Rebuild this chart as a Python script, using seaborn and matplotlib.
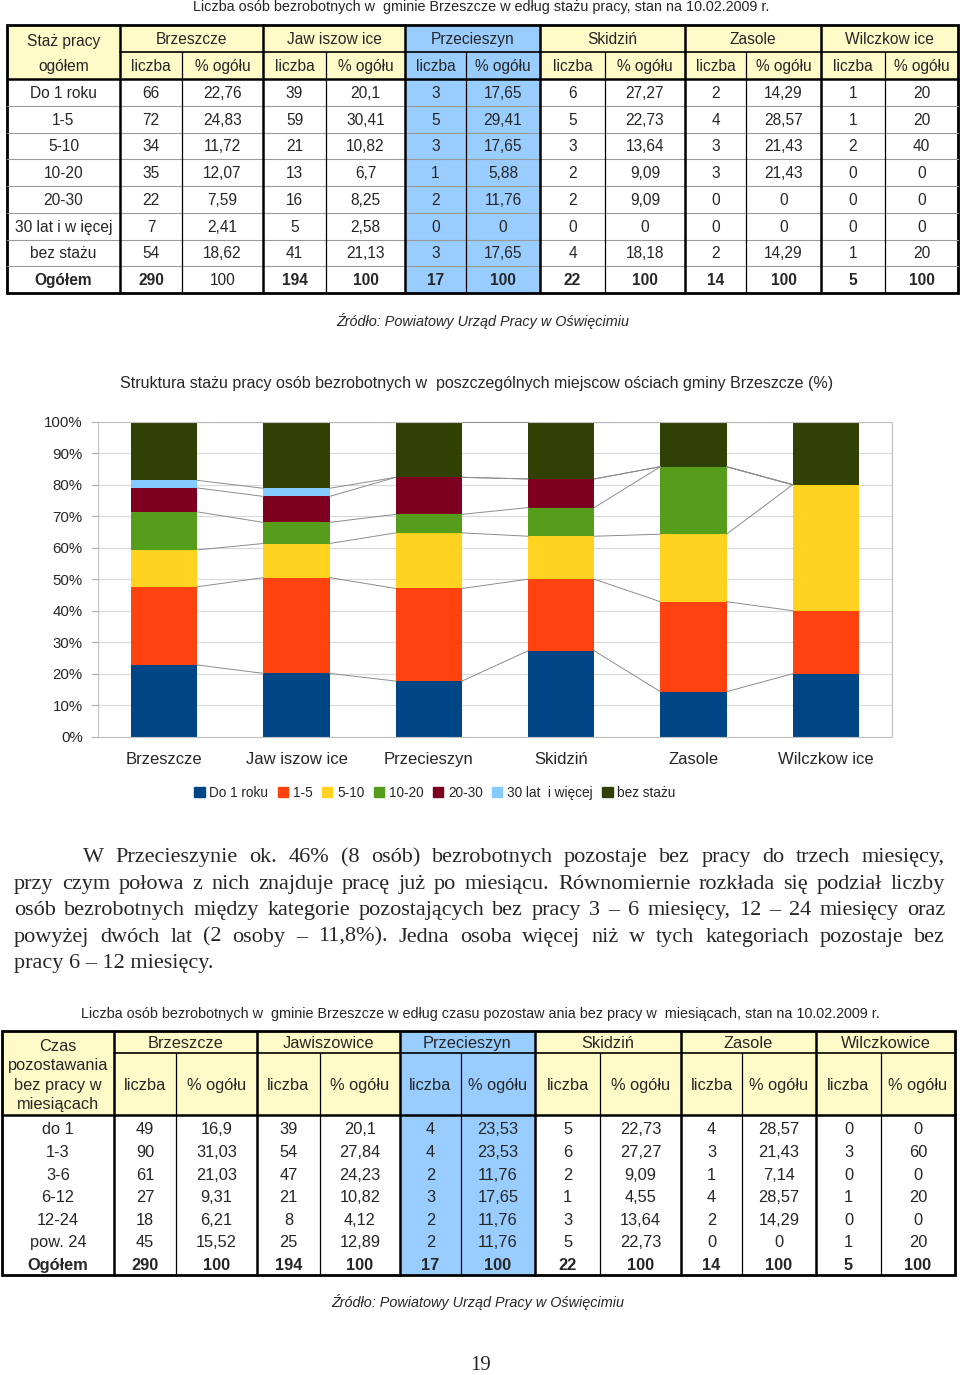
import numpy as np
import pandas as pd
import matplotlib
matplotlib.use("Agg")
import matplotlib.pyplot as plt
import seaborn as sns
from matplotlib.patches import Rectangle, Patch

sns.set_style("white")
NARROW = ['Liberation Sans Narrow', 'Liberation Sans', 'DejaVu Sans']
SANS = ['Liberation Sans', 'DejaVu Sans']
SERIF = ['Liberation Serif', 'DejaVu Serif']
plt.rcParams['font.family'] = SANS

# ---- data: table 1 (staz pracy) ----
towns = ["Brzeszcze", "Jaw iszow ice", "Przecieszyn", "Skidziń", "Zasole", "Wilczkow ice"]
staz_labels = ["Do 1 roku", "1-5", "5-10", "10-20", "20-30", "30 lat i w ięcej", "bez stażu", "Ogółem"]
legend_labels = ["Do 1 roku", "1-5", "5-10", "10-20", "20-30", "30 lat  i więcej", "bez stażu"]

brzeszcze_n = [66, 72, 34, 35, 22, 7, 54, 290]
brzeszcze_pct = [22.76, 24.83, 11.72, 12.07, 7.59, 2.41, 18.62, 100]
jawiszowice_n = [39, 59, 21, 13, 16, 5, 41, 194]
jawiszowice_pct = [20.1, 30.41, 10.82, 6.7, 8.25, 2.58, 21.13, 100]
przecieszyn_n = [3, 5, 3, 1, 2, 0, 3, 17]
przecieszyn_pct = [17.65, 29.41, 17.65, 5.88, 11.76, 0, 17.65, 100]
skidzin_n = [6, 5, 3, 2, 2, 0, 4, 22]
skidzin_pct = [27.27, 22.73, 13.64, 9.09, 9.09, 0, 18.18, 100]
zasole_n = [2, 4, 3, 3, 0, 0, 2, 14]
zasole_pct = [14.29, 28.57, 21.43, 21.43, 0, 0, 14.29, 100]
wilczkowice_n = [1, 1, 2, 0, 0, 0, 1, 5]
wilczkowice_pct = [20, 20, 40, 0, 0, 0, 20, 100]

staz_n = [brzeszcze_n, jawiszowice_n, przecieszyn_n, skidzin_n, zasole_n, wilczkowice_n]
staz_pct = [brzeszcze_pct, jawiszowice_pct, przecieszyn_pct, skidzin_pct, zasole_pct, wilczkowice_pct]

# ---- data: table 2 (czas pozostawania bez pracy) ----
towns2 = ["Brzeszcze", "Jawiszowice", "Przecieszyn", "Skidziń", "Zasole", "Wilczkowice"]
czas_labels = ["do 1", "1-3", "3-6", "6-12", "12-24", "pow. 24", "Ogółem"]
brzeszcze2_n = [49, 90, 61, 27, 18, 45, 290]
brzeszcze2_pct = [16.9, 31.03, 21.03, 9.31, 6.21, 15.52, 100]
jawiszowice2_n = [39, 54, 47, 21, 8, 25, 194]
jawiszowice2_pct = [20.1, 27.84, 24.23, 10.82, 4.12, 12.89, 100]
przecieszyn2_n = [4, 4, 2, 3, 2, 2, 17]
przecieszyn2_pct = [23.53, 23.53, 11.76, 17.65, 11.76, 11.76, 100]
skidzin2_n = [5, 6, 2, 1, 3, 5, 22]
skidzin2_pct = [22.73, 27.27, 9.09, 4.55, 13.64, 22.73, 100]
zasole2_n = [4, 3, 1, 4, 2, 0, 14]
zasole2_pct = [28.57, 21.43, 7.14, 28.57, 14.29, 0, 100]
wilczkowice2_n = [0, 3, 0, 1, 0, 1, 5]
wilczkowice2_pct = [0, 60, 0, 20, 0, 20, 100]

czas_n = [brzeszcze2_n, jawiszowice2_n, przecieszyn2_n, skidzin2_n, zasole2_n, wilczkowice2_n]
czas_pct = [brzeszcze2_pct, jawiszowice2_pct, przecieszyn2_pct, skidzin2_pct, zasole2_pct, wilczkowice2_pct]

colors = ["#004586", "#ff420e", "#ffd320", "#579d1c", "#7e0021", "#83caff", "#314004"]

paragraph = [
    "W Przecieszynie ok. 46% (8 osób) bezrobotnych pozostaje bez pracy do trzech miesięcy,",
    "przy czym połowa z nich znajduje pracę już po miesiącu. Równomiernie rozkłada się podział liczby",
    "osób bezrobotnych między kategorie pozostających bez pracy 3 – 6 miesięcy, 12 – 24 miesięcy oraz",
    "powyżej dwóch lat (2 osoby – 11,8%). Jedna osoba więcej niż w tych kategoriach pozostaje bez",
    "pracy 6 – 12 miesięcy.",
]

YELLOW = "#fffbc8"
BLUE = "#99ccff"


def fmt(v):
    return f"{v:g}".replace(".", ",")


fig = plt.figure(figsize=(9.6, 13.75), dpi=100)
ax0 = fig.add_axes([0, 0, 1, 1])
ax0.set_xlim(0, 960)
ax0.set_ylim(1375, 0)
ax0.axis("off")


def draw_table(ax, cx, y_top, y_mid, y_head, ry, head_text, head_ls, names, row_labels,
               counts, pcts, font, fs, row_lines, last_pct_bold, dy):
    x0, x1 = cx[0], cx[-1]
    # header backgrounds
    ax.add_patch(Rectangle((cx[0], y_top), cx[1] - cx[0], y_head - y_top, color=YELLOW, lw=0))
    for t in range(6):
        l, r = cx[1 + 2 * t], cx[3 + 2 * t]
        hc = BLUE if t == 2 else YELLOW
        ax.add_patch(Rectangle((l, y_top), r - l, y_head - y_top, color=hc, lw=0))
        if t == 2:
            ax.add_patch(Rectangle((l, y_head), r - l, ry[-1] - y_head, color=BLUE, lw=0))
        m = cx[2 + 2 * t]
        ax.text((l + r) / 2, (y_top + y_mid) / 2 + dy, names[t], ha="center", va="center",
                family=font, fontsize=fs)
        ax.text((l + m) / 2, (y_mid + y_head) / 2 + dy, "liczba", ha="center", va="center",
                family=font, fontsize=fs)
        ax.text((m + r) / 2, (y_mid + y_head) / 2 + dy, "% ogółu", ha="center", va="center",
                family=font, fontsize=fs)
    ax.text((cx[0] + cx[1]) / 2, (y_top + y_head) / 2 + 1 + dy, head_text, ha="center", va="center",
            family=font, fontsize=fs, linespacing=head_ls)
    # body
    nrows = len(row_labels)
    for i in range(nrows):
        yc = (ry[i] + ry[i + 1]) / 2 + dy
        last = i == nrows - 1
        ax.text((cx[0] + cx[1]) / 2, yc, row_labels[i], ha="center", va="center",
                family=font, fontsize=fs, fontweight="bold" if last else "normal")
        for t in range(6):
            l, m, r = cx[1 + 2 * t], cx[2 + 2 * t], cx[3 + 2 * t]
            ax.text((l + m) / 2, yc, str(counts[t][i]), ha="center", va="center",
                    family=font, fontsize=fs, fontweight="bold" if last else "normal")
            pb = last and last_pct_bold[t]
            ax.text((m + r) / 2, yc, fmt(pcts[t][i]), ha="center", va="center",
                    family=font, fontsize=fs, fontweight="bold" if pb else "normal")
    # lines
    if row_lines:
        for y in ry[1:-1]:
            ax.plot([x0, x1], [y, y], color="#9a9a9a", lw=0.8)
    ax.plot([cx[1], x1], [y_mid, y_mid], color="black", lw=1.2)
    ax.plot([x0, x1], [y_head, y_head], color="black", lw=1.8)
    for t in range(6):
        m = cx[2 + 2 * t]
        ax.plot([m, m], [y_mid, ry[-1]], color="black", lw=0.9)
    for k in range(1, 13, 2):
        ax.plot([cx[k], cx[k]], [y_top, ry[-1]], color="black", lw=1.8)
    ax.add_patch(Rectangle((x0, y_top), x1 - x0, ry[-1] - y_top, fill=False, ec="black", lw=2))


# ---- table 1 ----
ax0.text(481, 7, "Liczba osób bezrobotnych w  gminie Brzeszcze w edług stażu pracy, stan na 10.02.2009 r.",
         ha="center", va="center", family=NARROW, fontsize=10.4)
cx1 = [7, 120, 182, 263, 326, 405, 466, 540, 605, 685, 746, 821, 885, 958]
ry1 = [79 + k * 26.75 for k in range(9)]
draw_table(ax0, cx1, 25, 52, 79, ry1, "Staż pracy\nogółem", 1.85, towns, staz_labels,
           staz_n, staz_pct, NARROW, 11.2, True, [False, True, True, True, True, True], 1)
ax0.text(483, 321, "Źródło: Powiatowy Urząd Pracy w Oświęcimiu", ha="center", va="center",
         family=NARROW, fontsize=10.4, style="italic")

# ---- chart ----
ax0.text(477, 383, "Struktura stażu pracy osób bezrobotnych w  poszczególnych miejscow ościach gminy Brzeszcze (%)",
         ha="center", va="center", family=SANS, fontsize=11.5)

ax = fig.add_axes([98 / 960, 1 - 736.7 / 1375, 794 / 960, 315 / 1375])
cum = np.cumsum(np.array([p[:7] for p in staz_pct]), axis=1)  # towns x series
df = pd.DataFrame(cum, index=towns, columns=legend_labels)
for k in range(6, -1, -1):
    sns.barplot(x=df.index.tolist(), y=df[legend_labels[k]].values, color=colors[k],
                saturation=1, width=0.5, errorbar=None, ax=ax, linewidth=0)
# series connector lines
for k in range(7):
    for i in range(5):
        ax.plot([i + 0.25, i + 0.75], [cum[i, k], cum[i + 1, k]], color="#8c8c8c", lw=0.7, zorder=3)
ax.set_xlim(-0.5, 5.5)
ax.set_ylim(0, 100)
ax.set_xlabel("")
ax.set_ylabel("")
ax.set_axisbelow(True)
ax.yaxis.grid(True, color="#d9d9d9", lw=0.8)
ax.set_yticks(range(0, 101, 10))
ax.set_yticklabels([f"{v}%" for v in range(0, 101, 10)], fontsize=10.8)
ax.set_xticks(range(6))
ax.set_xticklabels(towns, fontsize=12)
ax.set_xticks(np.arange(-0.5, 6, 1), minor=True)
ax.tick_params(axis="x", which="major", length=0, pad=11)
ax.tick_params(axis="x", which="minor", length=5, color="#b3b3b3", direction="out")
ax.tick_params(axis="y", length=5, color="#b3b3b3", direction="out", pad=6, left=True)
for s in ax.spines.values():
    s.set_color("#c0c0c0")
    s.set_linewidth(0.8)

handles = [Patch(color=c) for c in colors]
fig.legend(handles, legend_labels, loc="center", bbox_to_anchor=(435 / 960, 1 - 793 / 1375),
           ncol=7, frameon=False, fontsize=9.8, handlelength=0.75, handleheight=0.75,
           handletextpad=0.35, columnspacing=0.7, borderaxespad=0)

# ---- paragraph (justified) ----
renderer = fig.canvas.get_renderer()
left, right = 14, 945
baselines = [862, 888.6, 915.2, 941.8, 968.4]
pfs = 16
for li, line in enumerate(paragraph):
    start = 83 if li == 0 else left
    if li == len(paragraph) - 1:
        ax0.text(start, baselines[li], line, ha="left", va="baseline", family=SERIF, fontsize=pfs)
        continue
    words = line.split(" ")
    objs = [ax0.text(0, baselines[li], w, ha="left", va="baseline", family=SERIF, fontsize=pfs)
            for w in words]
    widths = [o.get_window_extent(renderer=renderer).width for o in objs]
    gap = (right - start - sum(widths)) / (len(words) - 1)
    x = start
    for o, w in zip(objs, widths):
        o.set_x(x)
        x += w + gap

# ---- table 2 ----
ax0.text(480, 1014, "Liczba osób bezrobotnych w  gminie Brzeszcze w edług czasu pozostaw ania bez pracy w  miesiącach, stan na 10.02.2009 r.",
         ha="center", va="center", family=SANS, fontsize=10.4)
cx2 = [2, 114, 176, 257, 320, 400, 461, 535, 600, 681, 742, 816, 881, 955]
ry2 = [1117 + k * 22.6 for k in range(8)]
draw_table(ax0, cx2, 1031, 1053, 1115, ry2, "Czas\npozostawania\nbez pracy w\nmiesiącach", 1.38,
           towns2, czas_labels, czas_n, czas_pct, SANS, 11.8, False, [True] * 6, 1.5)
ax0.text(478, 1302, "Źródło: Powiatowy Urząd Pracy w Oświęcimiu", ha="center", va="center",
         family=NARROW, fontsize=10.4, style="italic")

ax0.text(481, 1365, "19", ha="center", va="center", family=SERIF, fontsize=15)

fig.savefig("out.png", dpi=100)
